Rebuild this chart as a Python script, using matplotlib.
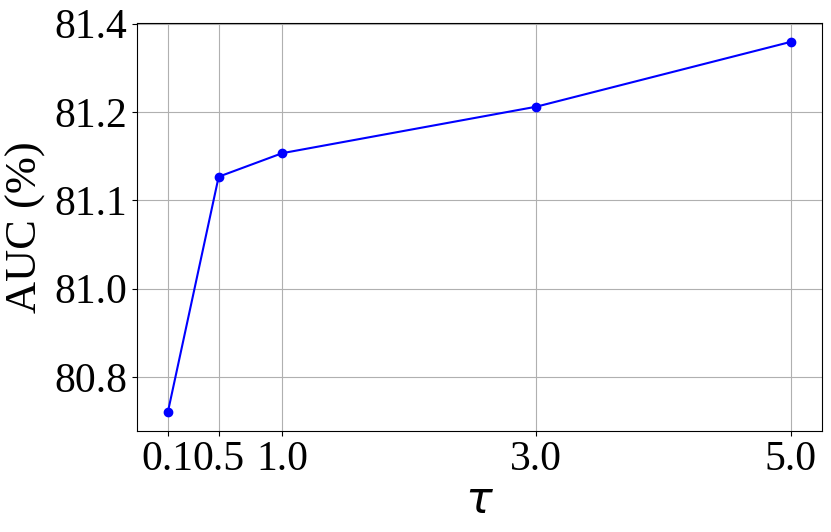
import matplotlib
matplotlib.use("Agg")
import matplotlib.pyplot as plt

plt.rcParams['font.family'] = ['Liberation Serif', 'DejaVu Sans']

tau = [0.1, 0.5, 1.0, 3.0, 5.0]
auc = [80.740, 81.140, 81.180, 81.259, 81.369]
xtick_labels = ["0.1", "0.5", "1.0", "3.0", "5.0"]
ytick_pos = [80.8, 80.95, 81.1, 81.25, 81.4]
ytick_labels = ["80.8", "81.0", "81.1", "81.2", "81.4"]

fig = plt.figure(figsize=(8.31, 5.32), dpi=100)
ax = fig.add_subplot(111)
fig.subplots_adjust(left=0.1645, right=0.9888, top=0.956, bottom=0.1904)

ax.plot(tau, auc, color='blue', marker='o', markersize=6, linewidth=1.5)
ax.set_xticks(tau)
ax.set_xticklabels(xtick_labels)
ax.set_yticks(ytick_pos)
ax.set_yticklabels(ytick_labels)
ax.tick_params(labelsize=30)
ax.set_xlabel(r'$\tau$', fontsize=32, labelpad=2)
ax.set_ylabel('AUC (%)', fontsize=32, labelpad=6)
ax.grid(True)

fig.savefig("out.png", dpi=100)
